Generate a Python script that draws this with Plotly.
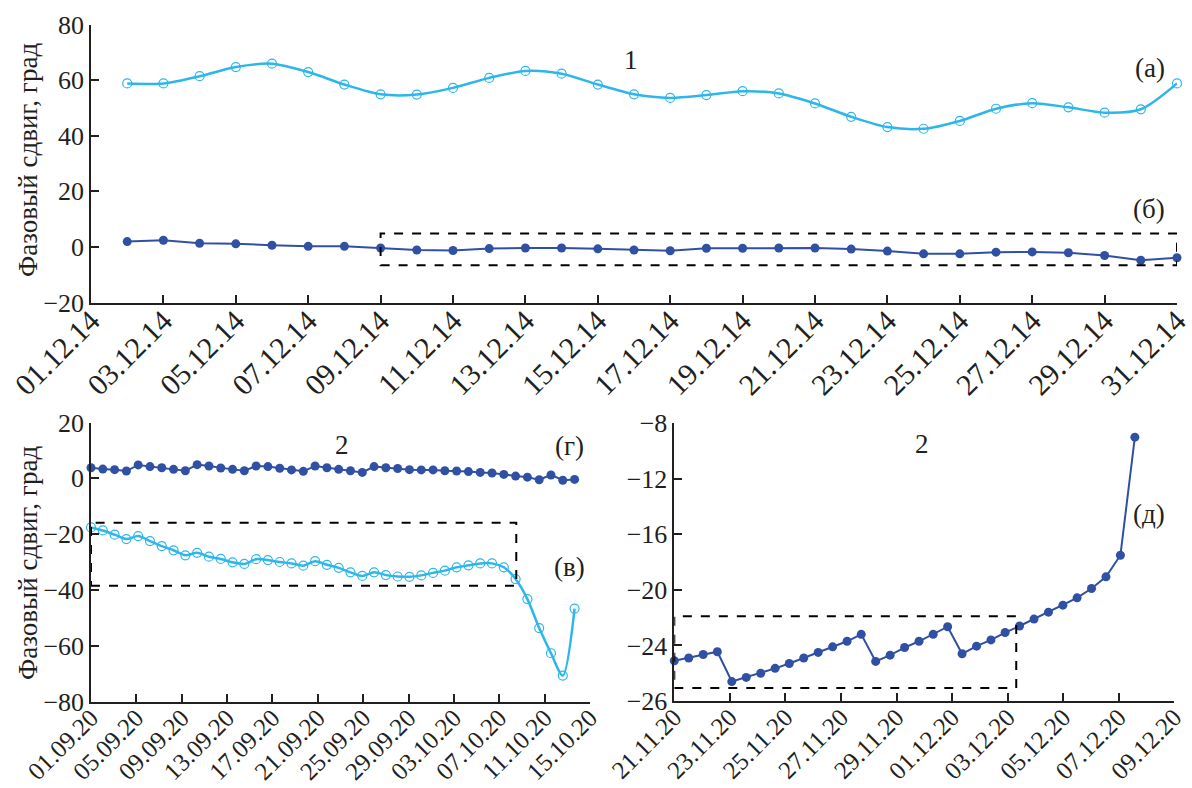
import plotly.graph_objects as go

# ---------------- Panel 1 (top): December 2014 ----------------
top_days = list(range(1, 31))  # 02.12.14 ... 31.12.14 (day offset from 01.12.14)
top_a = [58.8, 58.8, 61.4, 64.7, 65.9, 62.9, 58.4, 54.9, 54.8, 57.2, 60.8, 63.3, 62.3, 58.4,
         54.9, 53.6, 54.6, 56.0, 55.2, 51.6, 46.8, 43.1, 42.5, 45.3, 49.7, 51.7, 50.2, 48.3, 49.5, 58.8]
top_b = [1.9, 2.4, 1.3, 1.1, 0.6, 0.2, 0.2, -0.4, -1.1, -1.3, -0.6, -0.4, -0.4, -0.7,
         -1.1, -1.4, -0.5, -0.5, -0.4, -0.4, -0.8, -1.5, -2.5, -2.5, -1.9, -1.8, -2.1, -3.1, -4.8, -3.9]
top_tickvals = list(range(0, 31, 2))
top_ticktext = ["01.12.14", "03.12.14", "05.12.14", "07.12.14", "09.12.14", "11.12.14", "13.12.14",
                "15.12.14", "17.12.14", "19.12.14", "21.12.14", "23.12.14", "25.12.14", "27.12.14",
                "29.12.14", "31.12.14"]
top_yticks = [-20, 0, 20, 40, 60, 80]

# ---------------- Panel 2 (bottom left): Sep-Oct 2020 ----------------
bl_days = [0, 1.04, 2.08, 3.12, 4.16, 5.2, 6.24, 7.28, 8.32, 9.36, 10.4, 11.44, 12.48, 13.52,
           14.56, 15.6, 16.64, 17.68, 18.72, 19.76, 20.8, 21.84, 22.88, 23.92, 24.96, 26.0, 27.04,
           28.08, 29.12, 30.16, 31.2, 32.24, 33.28, 34.32, 35.36, 36.4, 37.44, 38.48, 39.52, 40.56,
           41.6, 42.64]
bl_g = [3.8, 3.3, 3.1, 2.6, 4.8, 4.2, 3.8, 3.2, 2.7, 4.9, 4.4, 3.7, 3.2, 2.7,
        4.4, 4.2, 3.6, 3.0, 2.5, 4.4, 3.8, 3.2, 2.7, 2.1, 4.2, 3.8, 3.5, 3.1,
        3.0, 3.0, 2.7, 2.6, 2.4, 2.1, 1.9, 1.4, 0.8, 0.4, -0.5, 1.2, -0.7, -0.4]
bl_v = [-17.6, -18.7, -20.2, -21.8, -20.7, -22.5, -24.3, -25.8, -27.6, -26.7, -28.1, -28.9, -30.1, -30.7,
        -29.0, -29.3, -30.0, -30.5, -31.3, -29.7, -31.0, -32.1, -33.7, -35.0, -33.7, -34.7, -35.2, -35.3,
        -34.8, -33.9, -33.1, -31.9, -31.2, -30.5, -30.5, -31.9, -36.1, -43.3, -53.7, -62.7, -70.7, -46.7]
bl_tickvals = list(range(0, 45, 4))
bl_ticktext = ["01.09.20", "05.09.20", "09.09.20", "13.09.20", "17.09.20", "21.09.20",
               "25.09.20", "29.09.20", "03.10.20", "07.10.20", "11.10.20", "15.10.20"]
bl_yticks = [-80, -60, -40, -20, 0, 20]

# ---------------- Panel 3 (bottom right): Nov-Dec 2020 ----------------
br_days = [0, 0.52, 1.04, 1.55, 2.07, 2.59, 3.11, 3.63, 4.14, 4.66, 5.18, 5.70, 6.22, 6.73,
           7.25, 7.77, 8.29, 8.81, 9.32, 9.84, 10.36, 10.88, 11.40, 11.91, 12.43, 12.95, 13.47,
           13.99, 14.50, 15.02, 15.54, 16.06, 16.58]
br_d = [-25.1, -24.9, -24.65, -24.45, -26.6, -26.3, -26.0, -25.65, -25.3, -24.9, -24.5, -24.1, -23.7,
        -23.2, -25.15, -24.7, -24.15, -23.7, -23.2, -22.65, -24.6, -24.05, -23.6, -23.07, -22.6, -22.1,
        -21.6, -21.1, -20.57, -19.9, -19.06, -17.5, -9.0]
br_tickvals = list(range(0, 19, 2))
br_ticktext = ["21.11.20", "23.11.20", "25.11.20", "27.11.20", "29.11.20", "01.12.20",
               "03.12.20", "05.12.20", "07.12.20", "09.12.20"]
br_ytickvals = [-28, -24, -20, -16, -12, -8]
br_yticktext = ["\u221226", "\u221224", "\u221220", "\u221216", "\u221212", "\u22128"]

# ---------------- styling ----------------
LIGHT = "#2DB6EA"
DARK = "#3050A3"
INK = "#231F20"
FONT = "Liberation Serif"
W, H = 1192, 788


def px_x(x):
    return x / W


def px_y(y):
    return 1 - y / H


fig = go.Figure()

# top panel
fig.add_trace(go.Scatter(x=top_days, y=top_a, mode="lines+markers", xaxis="x", yaxis="y",
                         line=dict(color=LIGHT, width=2.5, shape="spline", smoothing=0.8),
                         marker=dict(symbol="circle-open", size=9, color=LIGHT, line=dict(width=1.2)),
                         cliponaxis=False, showlegend=False))
fig.add_trace(go.Scatter(x=top_days, y=top_b, mode="lines+markers", xaxis="x", yaxis="y",
                         line=dict(color=DARK, width=2),
                         marker=dict(symbol="circle", size=9, color=DARK),
                         cliponaxis=False, showlegend=False))
# bottom left
fig.add_trace(go.Scatter(x=bl_days, y=bl_g, mode="lines+markers", xaxis="x2", yaxis="y2",
                         line=dict(color=DARK, width=2),
                         marker=dict(symbol="circle", size=9, color=DARK),
                         cliponaxis=False, showlegend=False))
fig.add_trace(go.Scatter(x=bl_days, y=bl_v, mode="lines+markers", xaxis="x2", yaxis="y2",
                         line=dict(color=LIGHT, width=2.5, shape="spline", smoothing=0.8),
                         marker=dict(symbol="circle-open", size=9, color=LIGHT, line=dict(width=1.2)),
                         cliponaxis=False, showlegend=False))
# bottom right
fig.add_trace(go.Scatter(x=br_days, y=br_d, mode="lines+markers", xaxis="x3", yaxis="y3",
                         line=dict(color=DARK, width=2),
                         marker=dict(symbol="circle", size=9, color=DARK),
                         cliponaxis=False, showlegend=False))

axis_common = dict(showline=True, linecolor=INK, linewidth=1.5, ticks="inside", ticklen=8,
                   tickwidth=1.5, tickcolor=INK, showgrid=False, zeroline=False, automargin=False,
                   fixedrange=True, ticklabeloverflow="allow")
yfont = dict(family=FONT, size=26, color=INK)
xfont_top = dict(family=FONT, size=30, color=INK)
xfont_bot = dict(family=FONT, size=25, color=INK)

fig.update_layout(
    width=W, height=H, paper_bgcolor="white", plot_bgcolor="white",
    margin=dict(l=0, r=0, t=0, b=0),
    xaxis=dict(domain=[px_x(91), px_x(1177)], range=[0, 30], anchor="y", tickfont=xfont_top,
               tickvals=top_tickvals, ticktext=top_ticktext, tickangle=-45,
               ticklabelstandoff=-13, **axis_common),
    yaxis=dict(domain=[px_y(302.5), px_y(24.5)], range=[-20, 80], anchor="x", tickfont=yfont,
               tickvals=top_yticks, **axis_common),
    xaxis2=dict(domain=[px_x(91), px_x(590)], range=[0, 44], anchor="y2", tickfont=xfont_bot,
                tickvals=bl_tickvals, ticktext=bl_ticktext, tickangle=-45,
                ticklabelstandoff=-10, **axis_common),
    yaxis2=dict(domain=[px_y(701.5), px_y(422.5)], range=[-80, 20], anchor="x2", tickfont=yfont,
                tickvals=bl_yticks, **axis_common),
    xaxis3=dict(domain=[px_x(674.3), px_x(1174.3)], range=[0, 18], anchor="y3", tickfont=xfont_bot,
                tickvals=br_tickvals, ticktext=br_ticktext, tickangle=-45,
                ticklabelstandoff=-10, **axis_common),
    yaxis3=dict(domain=[px_y(701), px_y(423.3)], range=[-28, -8], anchor="x3", tickfont=yfont,
                tickvals=br_ytickvals, ticktext=br_yticktext, **axis_common),
)

dash = dict(color="black", width=2, dash="dash")
fig.add_shape(type="rect", xref="x", yref="y", x0=8, x1=30, y0=-6.6, y1=4.8, line=dash)
fig.add_shape(type="rect", xref="x2", yref="y2", x0=0, x1=37.5, y0=-38.5, y1=-15.9, line=dash)
fig.add_shape(type="rect", xref="x3", yref="y3", x0=0, x1=12.31, y0=-27.06, y1=-21.9, line=dash)

labels = [("1", 631, 60), ("(а)", 1150, 68), ("(б)", 1149, 209),
          ("2", 342, 445), ("(г)", 569, 446), ("(в)", 569, 567),
          ("2", 922, 444), ("(д)", 1149, 514)]
for txt, x, y in labels:
    fig.add_annotation(text=txt, x=px_x(x), y=px_y(y), xref="paper", yref="paper",
                       showarrow=False, xanchor="center", yanchor="middle",
                       font=dict(family=FONT, size=27, color=INK))

for yc in (160, 563):
    fig.add_annotation(text="Фазовый сдвиг, град", x=px_x(28), y=px_y(yc), xref="paper", yref="paper",
                       showarrow=False, textangle=-90, xanchor="center", yanchor="middle",
                       font=dict(family=FONT, size=27, color=INK))

fig.write_html(
    "out.html",
    config={"displayModeBar": False},
    post_script="document.body.style.margin='0';document.body.style.overflow='hidden';",
)
